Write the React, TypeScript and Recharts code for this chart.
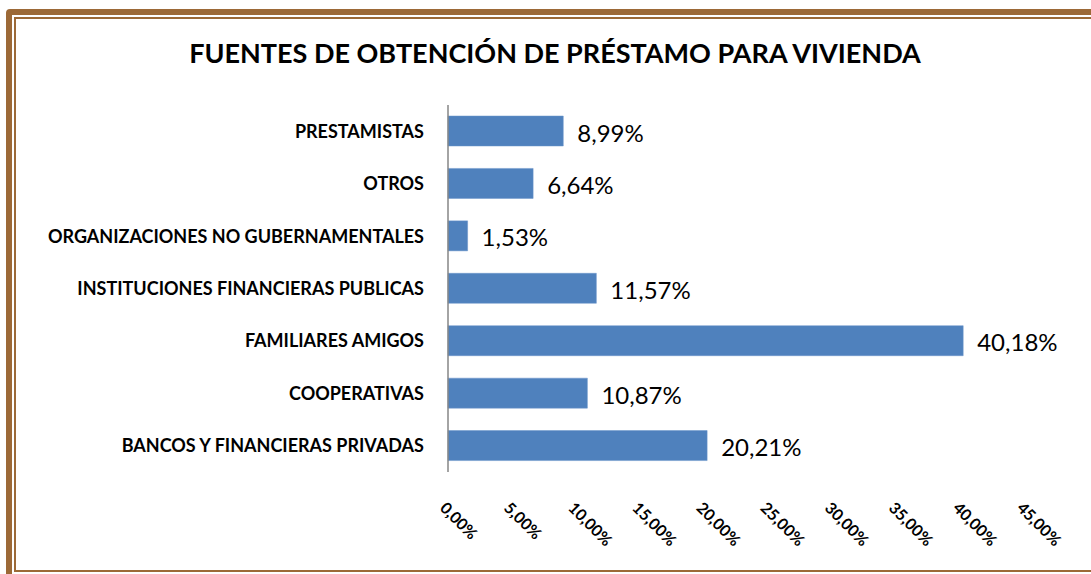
import React from 'react';
import { BarChart, Bar, XAxis, YAxis, LabelList } from 'recharts';

const categories = [
  'PRESTAMISTAS',
  'OTROS',
  'ORGANIZACIONES NO GUBERNAMENTALES',
  'INSTITUCIONES FINANCIERAS PUBLICAS',
  'FAMILIARES AMIGOS',
  'COOPERATIVAS',
  'BANCOS Y FINANCIERAS PRIVADAS',
];
const percentages = [8.99, 6.64, 1.53, 11.57, 40.18, 10.87, 20.21];
const xTicks = [0, 5, 10, 15, 20, 25, 30, 35, 40, 45];

const chartData = categories.map((name, i) => ({ name, value: percentages[i] }));

const FONT = 'Lato, "Open Sans", sans-serif';
const BROWN = '#9C6937';

const fmt = (v: number) => v.toFixed(2).replace('.', ',') + '%';

const CategoryTick = (props: any) => {
  const { x, y, payload } = props;
  return (
    <text x={x - 24} y={y} dy="0.36em" textAnchor="end" fontFamily={FONT} fontWeight={700} fontSize={18} fill="#000">
      {payload.value}
    </text>
  );
};

const PercentTick = (props: any) => {
  const { x, y, payload } = props;
  const ax = x - 9;
  const ay = y + 37;
  return (
    <text x={ax} y={ay} transform={`rotate(45 ${ax} ${ay})`} textAnchor="start" fontFamily={FONT} fontWeight={700} fontSize={16} fill="#000">
      {fmt(payload.value)}
    </text>
  );
};

const App: React.FC = () => {
  return (
    <div style={{ position: 'absolute', left: 0, top: 0, width: 1091, height: 574, overflow: 'hidden', background: '#fff' }}>
      {/* double brown frame, cropped on the right and bottom */}
      <div style={{ position: 'absolute', left: 6, top: 9, width: 1110, height: 580, border: `6px solid ${BROWN}`, borderRadius: 4, boxSizing: 'border-box' }} />
      <div style={{ position: 'absolute', left: 14, top: 17, width: 1090, height: 555, border: `2px solid ${BROWN}`, boxSizing: 'border-box' }} />
      <svg style={{ position: 'absolute', left: 0, top: 0 }} width={1091} height={80}>
        <text x={555} y={63} textAnchor="middle" fontFamily={FONT} fontWeight={700} fontSize={27} fill="#000">
          FUENTES DE OBTENCIÓN DE PRÉSTAMO PARA VIVIENDA
        </text>
      </svg>
      <div style={{ position: 'absolute', left: 0, top: 0 }}>
        <BarChart width={1091} height={574} data={chartData} layout="vertical" margin={{ top: 105, right: 66, bottom: 62, left: 0 }}>
          <XAxis
            type="number"
            domain={[0, 45]}
            ticks={xTicks}
            interval={0}
            axisLine={false}
            tickLine={false}
            tickSize={0}
            tickMargin={0}
            height={40}
            tick={<PercentTick />}
          />
          <YAxis
            type="category"
            dataKey="name"
            width={448}
            interval={0}
            axisLine={{ stroke: '#868686', strokeWidth: 1.5 }}
            tickLine={false}
            tickSize={0}
            tickMargin={0}
            tick={<CategoryTick />}
          />
          <Bar dataKey="value" fill="#4F81BD" stroke="#6A95CA" strokeWidth={0.5} barSize={30} isAnimationActive={false}>
            <LabelList dataKey="value" position="right" offset={14} dy={2} formatter={(v: any) => fmt(Number(v))} fontFamily={FONT} fontSize={24} fill="#000" />
          </Bar>
        </BarChart>
      </div>
    </div>
  );
};

export default App;
